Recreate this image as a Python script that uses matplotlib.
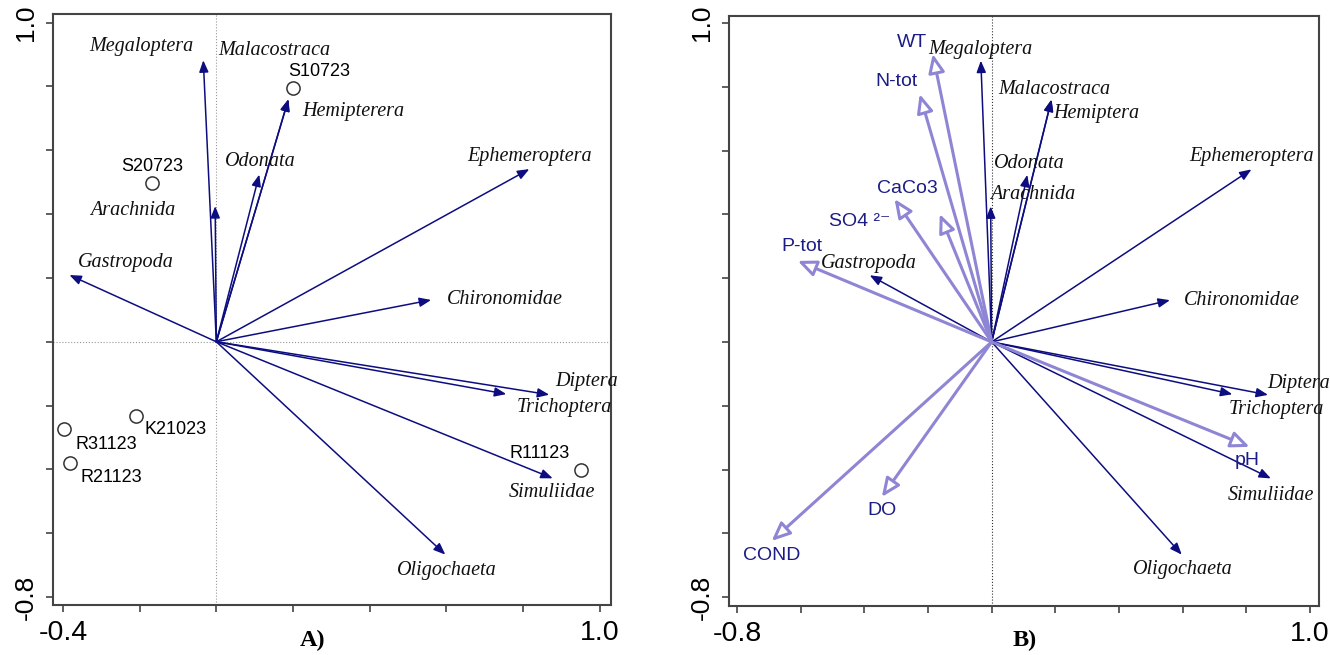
import matplotlib
matplotlib.use("Agg")
import matplotlib.pyplot as plt

# species scores (shared by both biplots)
species = ["Megaloptera", "Malacostraca", "Hemiptera", "Odonata", "Arachnida",
           "Gastropoda", "Ephemeroptera", "Chironomidae", "Diptera",
           "Trichoptera", "Simuliidae", "Oligochaeta"]
sp_x = [-0.034, 0.188, 0.188, 0.112, -0.003, -0.383, 0.816, 0.560, 0.868, 0.756, 0.877, 0.597]
sp_y = [0.882, 0.760, 0.760, 0.524, 0.425, 0.209, 0.541, 0.131, -0.166, -0.164, -0.428, -0.667]
# panel A spells one name differently
species_a = [s if s != "Hemiptera" else "Hemipterera" for s in species]

# sampling sites (panel A)
sites = ["S10723", "S20723", "K21023", "R31123", "R21123", "R11123"]
site_x = [0.201, -0.167, -0.209, -0.396, -0.381, 0.951]
site_y = [0.796, 0.498, -0.232, -0.274, -0.379, -0.401]

# environmental variables (panel B)
env = ["WT", "N-tot", "CaCo3", "SO4 ²⁻", "P-tot", "COND", "DO", "pH"]
env_x = [-0.185, -0.226, -0.305, -0.163, -0.609, -0.691, -0.345, 0.810]
env_y = [0.903, 0.777, 0.448, 0.401, 0.254, -0.624, -0.486, -0.329]

# label placement (layout only)
lab_a = [(-0.196, 0.925), (0.151, 0.912), (0.357, 0.721), (0.115, 0.564),
         (-0.219, 0.411), (-0.235, 0.248), (0.816, 0.580), (0.751, 0.132),
         (0.965, -0.125), (0.907, -0.207), (0.876, -0.473), (0.600, -0.718)]
lab_b = [(-0.035, 0.918), (0.198, 0.793), (0.330, 0.715), (0.119, 0.561),
         (0.129, 0.461), (-0.386, 0.245), (0.816, 0.580), (0.785, 0.129),
         (0.964, -0.129), (0.895, -0.213), (0.876, -0.480), (0.600, -0.715)]
site_lab = [(0.269, 0.846), (-0.167, 0.549), (-0.107, -0.276),
            (-0.287, -0.323), (-0.274, -0.426), (0.842, -0.351)]
env_lab = [(-0.251, 0.940), (-0.298, 0.818), (-0.264, 0.480), (-0.414, 0.379),
           (-0.597, 0.298), (-0.691, -0.671), (-0.345, -0.530), (0.804, -0.373)]

NAVY = "#0d0d80"
ENVC = "#8e86d4"
ENVT = "#1c1c86"
SERIF = "Liberation Serif"
SANS = "Liberation Sans"

fig = plt.figure(figsize=(13.3, 6.55), dpi=100)
axA = fig.add_axes([0.0398, 0.0763, 0.4196, 0.9023])
axB = fig.add_axes([0.5481, 0.0748, 0.4436, 0.9008])


def style_axes(ax, xt, yt):
    ax.set_xticks(xt)
    ax.set_yticks(yt)
    xl = [""] * len(xt)
    xl[0], xl[-1] = f"{xt[0]:.1f}", f"{xt[-1]:.1f}"
    yl = [""] * len(yt)
    yl[0], yl[-1] = f"{yt[0]:.1f}", f"{yt[-1]:.1f}"
    ax.set_xticklabels(xl, fontsize=20.5, family=SANS)
    ax.set_yticklabels(yl, fontsize=19, family=SANS, rotation=90, va="center")
    for s in ax.spines.values():
        s.set_color("#444444")
        s.set_linewidth(1.5)
    ax.tick_params(direction="out", length=5, width=1.2, color="#444444", pad=6)


def species_arrows(ax, names, labs):
    for name, x, y, (lx, ly) in zip(names, sp_x, sp_y, labs):
        ax.annotate("", xy=(x, y), xytext=(0, 0),
                    arrowprops=dict(arrowstyle="-|>,head_length=0.5,head_width=0.2",
                                    color=NAVY, lw=1.1, mutation_scale=14,
                                    shrinkA=0, shrinkB=0))
        ax.text(lx, ly, name, fontsize=14.5, family=SERIF, style="italic",
                ha="center", va="center", color="#111111")


# ---- panel A
axA.set_xlim(-0.426, 1.029)
axA.set_ylim(-0.825, 1.027)
axA.axvline(0, color="#999999", lw=0.8, ls=":")
axA.axhline(0, color="#999999", lw=0.8, ls=":")
species_arrows(axA, species_a, lab_a)
axA.plot(site_x, site_y, "o", ms=9.5, mfc="none", mec="#333333", mew=1.1)
for name, (lx, ly) in zip(sites, site_lab):
    axA.text(lx, ly, name, fontsize=13, family=SANS, ha="center", va="center")
style_axes(axA, [-0.4, -0.2, 0.0, 0.2, 0.4, 0.6, 0.8, 1.0],
           [-0.8, -0.6, -0.4, -0.2, 0.0, 0.2, 0.4, 0.6, 0.8, 1.0])

# ---- panel B
axB.set_xlim(-0.825, 1.028)
axB.set_ylim(-0.828, 1.022)
axB.axvline(0, color="#333333", lw=0.8, ls=":")
species_arrows(axB, species, lab_b)
for name, x, y, (lx, ly) in zip(env, env_x, env_y, env_lab):
    axB.annotate("", xy=(x, y), xytext=(0, 0),
                 arrowprops=dict(arrowstyle="-|>,head_length=0.8,head_width=0.35",
                                 ec=ENVC, fc="white", lw=2.2, mutation_scale=14,
                                 shrinkA=0, shrinkB=0))
    axB.text(lx, ly, name, fontsize=14, family=[SANS, "DejaVu Sans"],
             ha="center", va="center", color=ENVT)
style_axes(axB, [-0.8, -0.6, -0.4, -0.2, 0.0, 0.2, 0.4, 0.6, 0.8, 1.0],
           [-0.8, -0.6, -0.4, -0.2, 0.0, 0.2, 0.4, 0.6, 0.8, 1.0])

fig.text(313 / 1330, 1 - 640 / 655, "A)", fontsize=17.5, family=SERIF,
         weight="bold", ha="center", va="center")
fig.text(1025 / 1330, 1 - 640 / 655, "B)", fontsize=17.5, family=SERIF,
         weight="bold", ha="center", va="center")

fig.savefig("out.png", dpi=100)
